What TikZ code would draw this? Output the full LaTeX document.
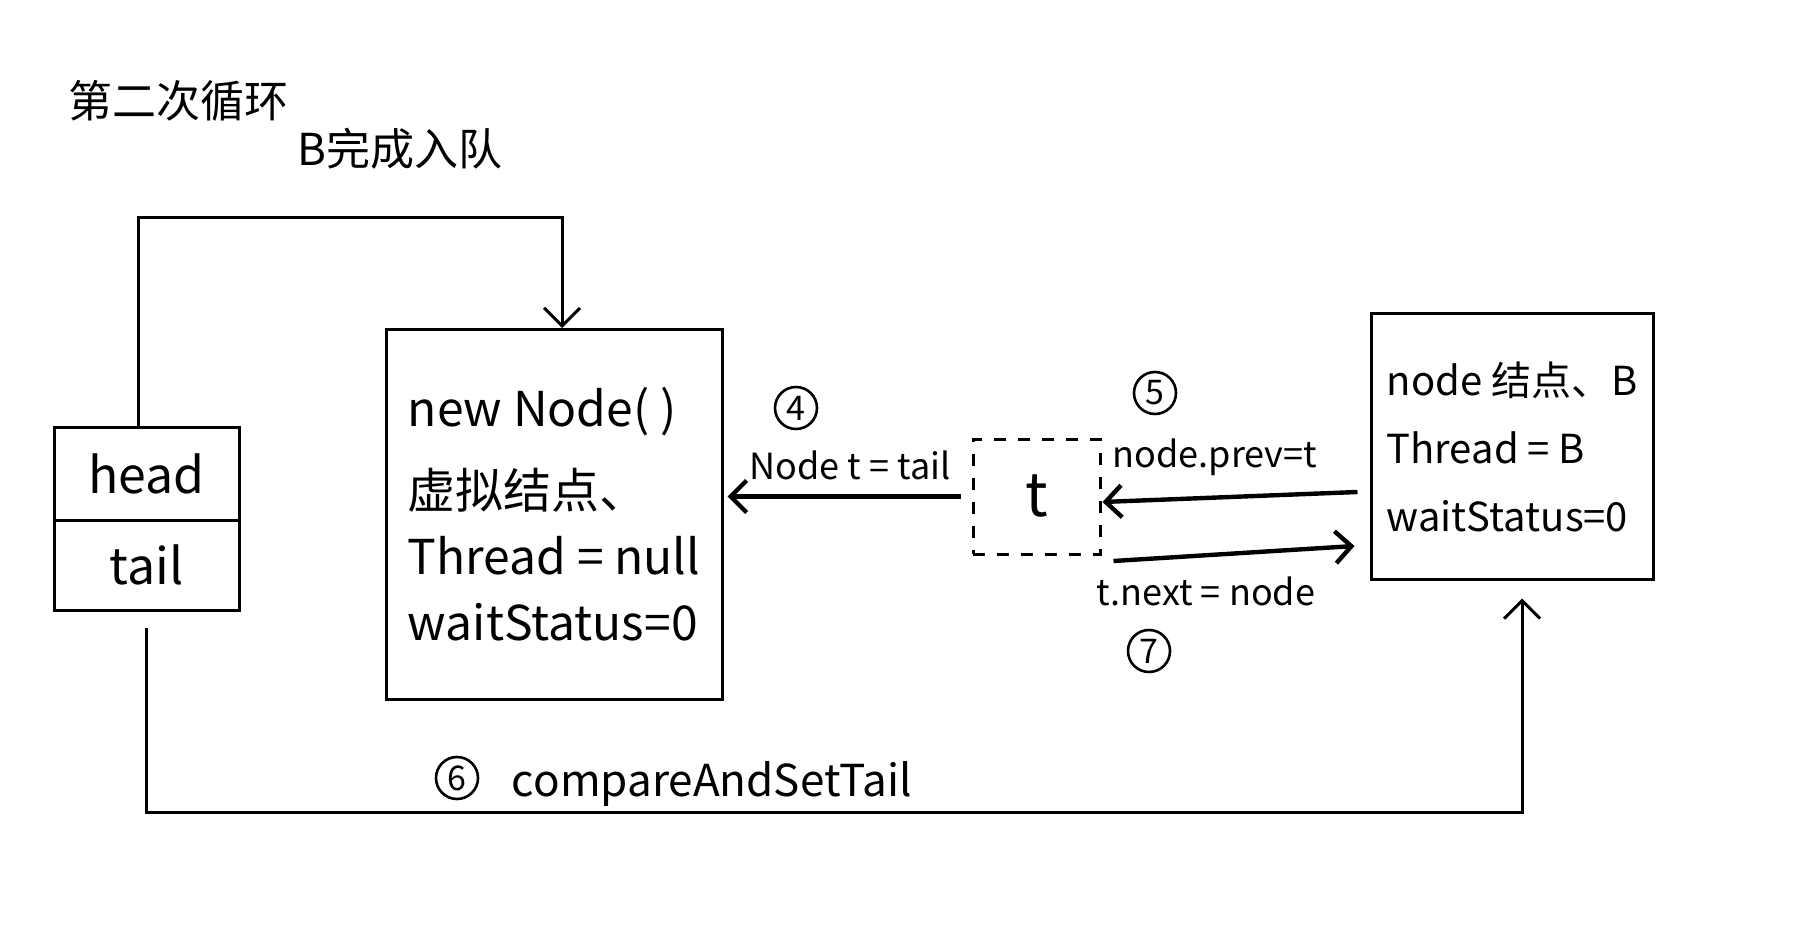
\documentclass[tikz,border=0pt]{standalone}
\usepackage{fontspec}
\setmainfont{Noto Sans CJK SC}
\usetikzlibrary{arrows.meta, calc, positioning}

\begin{document}
\begin{tikzpicture}[x=0.5pt, y=-0.5pt,
		box/.style={draw, line width=1.5pt, inner sep=0pt},
		link/.style={line width=1.5pt, -{Straight Barb[length=9pt, width=18pt, line width=1.5pt]}},
		ptr/.style={line width=2.2pt, -{Straight Barb[length=8pt, width=16pt]}},
		num/.style={draw, circle, line width=1.3pt, inner sep=1pt, minimum size=21pt, font=\fontsize{17}{17}\selectfont},
		lbl/.style={font=\fontsize{18}{22}\selectfont},
		title/.style={font=\fontsize{22}{26}\selectfont}]
		\fill[white] (0,0) rectangle (1802,930);
		\useasboundingbox (0,0) rectangle (1802,930);
		
		% 标题
		\node[title] (t1) at (178,101) {第二次循环};
		\node[title] (t2) at (400,149) {B完成入队};
		
		% head / tail
		\node[box, minimum width=92.5pt, minimum height=46.5pt, font=\fontsize{25}{25}\selectfont] (head) at (146.5,473.5) {head};
		\node[box, minimum width=92.5pt, minimum height=45pt, font=\fontsize{25}{25}\selectfont] (tail) at (146.5,565) {tail};
		
		% 虚拟结点, t, 结点 B
		\node[box, minimum width=168pt, minimum height=185pt, align=left, font=\fontsize{24}{33}\selectfont] (dummy) at (554,514.5) {new Node( )\\[8pt]虚拟结点、\\Thread = null\\waitStatus=0};
		\node[box, dashed, dash pattern=on 6pt off 6pt, minimum width=63.5pt, minimum height=57.5pt, font=\fontsize{30}{30}\selectfont] (tnode) at (1036.5,496.5) {t};
		\node[box, minimum width=141pt, minimum height=132.5pt, align=left, font=\fontsize{20}{34}\selectfont] (nodeB) at (1512,446.5) {node 结点、B\\Thread = B\\waitStatus=0};
		
		% head 指向虚拟结点
		\coordinate (top) at (0,218);
		\coordinate (hs) at ([xshift=-4pt]head.north);
		\draw[link] (hs) -- (hs |- top) -| ([xshift=4pt]dummy.north);
		
		% 6 compareAndSetTail
		\coordinate (bot) at (0,812);
		\draw[link, shorten <=8pt, shorten >=9pt] (tail.south) -- (tail.south |- bot) -| ([xshift=5pt]nodeB.south);
		\node[num] (c6) at (457,778) {6};
		\node[font=\fontsize{22}{26}\selectfont] (l6) at (712,784) {compareAndSetTail};
		
		% 4 Node t = tail
		\draw[ptr, shorten <=5.5pt, shorten >=2pt] (tnode.west) -- (dummy.east |- tnode.west);
		\node[num] (c4) at (796,408) {4};
		\node[lbl] (l4) at (850,465) {Node t = tail};
		
		% 5 node.prev = t
		\draw[ptr] ([shift={(-6pt,-22.75pt)}]nodeB.west) -- ([shift={(0.5pt,-2.75pt)}]tnode.east);
		\node[num] (c5) at (1155,393) {5};
		\node[lbl] (l5) at (1215,457) {node.prev=t};
		
		% 7 t.next = node
		\draw[ptr] ([shift={(6pt,-32.25pt)}]tnode.east) -- ([shift={(-7.5pt,-49.75pt)}]nodeB.west);
		\node[lbl] (l7) at (1206,591) {t.next = node};
		\node[num] (c7) at (1149,651) {7};
\end{tikzpicture}
\end{document}
